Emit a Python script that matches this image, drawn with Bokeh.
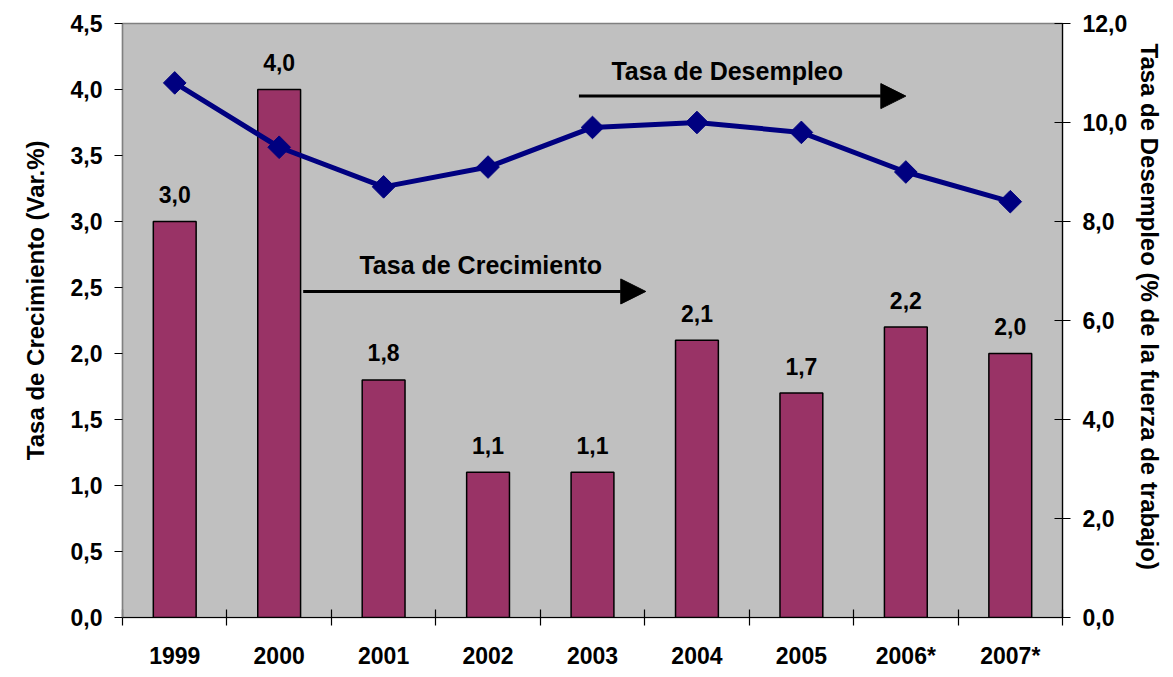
from bokeh.plotting import figure
from bokeh.models import (Range1d, LinearAxis, FixedTicker, CustomJSTickFormatter,
                          ColumnDataSource, Label, Arrow, NormalHead, Title)
from bokeh.core.properties import value
from bokeh.embed import file_html
from bokeh.resources import INLINE
import math

years = ["1999", "2000", "2001", "2002", "2003", "2004", "2005", "2006*", "2007*"]
growth = [3.0, 4.0, 1.8, 1.1, 1.1, 2.1, 1.7, 2.2, 2.0]
unemployment = [10.8, 9.5, 8.7, 9.1, 9.9, 10.0, 9.8, 9.0, 8.4]
left_ticks = [0, 0.5, 1, 1.5, 2, 2.5, 3, 3.5, 4, 4.5]
right_ticks = [0, 2, 4, 6, 8, 10, 12]

FONT = "Liberation Sans"
FS = "23px"

xs = [i + 0.5 for i in range(len(years))]
src = ColumnDataSource(dict(
    x=xs, growth=growth, unemp=unemployment,
    glabel=[("%.1f" % g).replace(".", ",") for g in growth],
))

p = figure(width=1173, height=671, output_backend="svg", toolbar_location=None,
           x_range=Range1d(0, len(years)), y_range=Range1d(0, 4.5),
           min_border_left=121, min_border_right=111, min_border_top=23, min_border_bottom=46)
p.border_fill_color = "white"
p.background_fill_color = "#C0C0C0"
p.outline_line_color = "#808080"
p.outline_line_width = 1.5
p.grid.visible = False

p.extra_y_ranges = {"right": Range1d(0, 12)}

comma_fmt = CustomJSTickFormatter(code="return tick.toFixed(1).replace('.', ',');")

# x axis
xa = p.xaxis[0]
xa.ticker = FixedTicker(ticks=xs, minor_ticks=list(range(len(years) + 1)))
xa.major_label_overrides = {x: y for x, y in zip(xs, years)}
xa.major_tick_line_color = None
xa.minor_tick_in = 8
xa.minor_tick_out = 8
xa.minor_tick_line_color = "black"
xa.minor_tick_line_width = 1.2
xa.axis_line_color = "black"
xa.axis_line_width = 1.2
xa.major_label_standoff = 17
xa.major_label_text_font = FONT
xa.major_label_text_font_style = "bold"
xa.major_label_text_font_size = FS
xa.major_label_text_color = "black"

# left axis
ya = p.yaxis[0]
ya.ticker = FixedTicker(ticks=left_ticks)
ya.formatter = comma_fmt
ya.major_tick_in = 0
ya.major_tick_out = 8
ya.minor_tick_line_color = None
ya.major_tick_line_color = "black"
ya.axis_line_color = "#808080"
ya.axis_line_width = 1.2
ya.major_label_standoff = 12
ya.major_label_text_font = FONT
ya.major_label_text_font_style = "bold"
ya.major_label_text_font_size = FS
ya.major_label_text_color = "black"

# right axis
ra = LinearAxis(y_range_name="right", ticker=FixedTicker(ticks=right_ticks), formatter=comma_fmt)
ra.major_tick_in = 8
ra.major_tick_out = 8
ra.minor_tick_line_color = None
ra.major_tick_line_color = "black"
ra.axis_line_color = "black"
ra.axis_line_width = 1.2
ra.major_label_standoff = 12
ra.major_label_text_font = FONT
ra.major_label_text_font_style = "bold"
ra.major_label_text_font_size = FS
ra.major_label_text_color = "black"
p.add_layout(ra, "right")

# axis titles as side titles (allows an offset along the axis like the reference)
p.add_layout(Title(text="Tasa de Crecimiento (Var.%)", align="right", offset=117,
                   text_font=FONT, text_font_style="bold", text_font_size="24px",
                   text_color="black", standoff=38), "left")
p.add_layout(Title(text="Tasa de Desempleo (% de la fuerza de trabajo)", align="left",
                   offset=20, text_font=FONT, text_font_style="bold", text_font_size="24px",
                   text_color="black", standoff=11), "right")

# bars
p.vbar(x="x", top="growth", width=0.41, bottom=0, source=src,
       fill_color="#993366", line_color="black", line_width=1.5)
p.text(x="x", y="growth", text="glabel", source=src, text_align="center",
       text_baseline="alphabetic", y_offset=-27, text_font=value(FONT),
       text_font_style="bold", text_font_size=FS, text_color="black")

# line
p.line(x="x", y="unemp", source=src, y_range_name="right", line_color="#000080", line_width=5)
p.scatter(x="x", y="unemp", source=src, y_range_name="right", marker="square",
          angle=math.pi / 4, size=16, fill_color="#000080", line_color="#000080")

# annotations
p.add_layout(Label(x=5.79, y=4.14, text="Tasa de Desempleo", text_font=FONT,
                   text_font_style="bold", text_font_size="25px", text_baseline="middle",
                   text_align="center", text_color="black"))
p.add_layout(Arrow(x_start=4.37, y_start=3.95, x_end=7.5, y_end=3.95, line_width=3,
                   line_color="black",
                   end=NormalHead(size=25, fill_color="black", line_color="black")))
p.add_layout(Label(x=3.43, y=2.67, text="Tasa de Crecimiento", text_font=FONT,
                   text_font_style="bold", text_font_size="25px", text_baseline="middle",
                   text_align="center", text_color="black"))
p.add_layout(Arrow(x_start=1.73, y_start=2.47, x_end=5.01, y_end=2.47, line_width=3,
                   line_color="black",
                   end=NormalHead(size=25, fill_color="black", line_color="black")))

open("out.html", "w").write(file_html(p, INLINE))
